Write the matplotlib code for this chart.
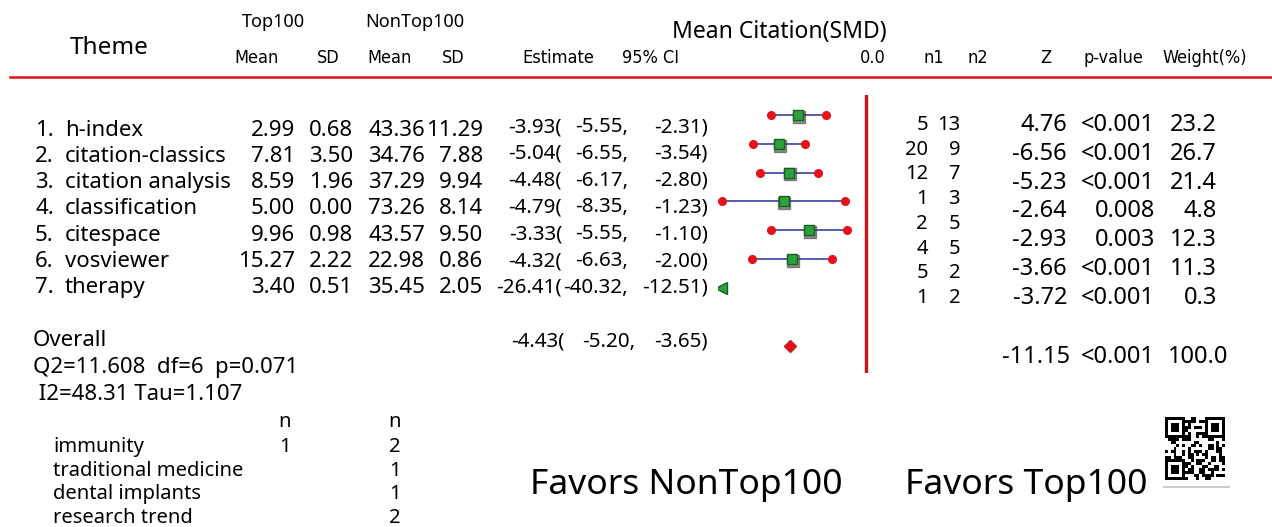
import numpy as np
import matplotlib
matplotlib.use("Agg")
import matplotlib.pyplot as plt
from matplotlib import font_manager

# data
themes = ["h-index", "citation-classics", "citation analysis", "classification",
          "citespace", "vosviewer", "therapy"]
top_mean = [2.99, 7.81, 8.59, 5.00, 9.96, 15.27, 3.40]
top_sd = [0.68, 3.50, 1.96, 0.00, 0.98, 2.22, 0.51]
non_mean = [43.36, 34.76, 37.29, 73.26, 43.57, 22.98, 35.45]
non_sd = [11.29, 7.88, 9.94, 8.14, 9.50, 0.86, 2.05]
est = [-3.93, -5.04, -4.48, -4.79, -3.33, -4.32, -26.41]
ci_lo = [-5.55, -6.55, -6.17, -8.35, -5.55, -6.63, -40.32]
ci_hi = [-2.31, -3.54, -2.80, -1.23, -1.10, -2.00, -12.51]
n1 = [5, 20, 12, 1, 2, 4, 5, 1]
n2 = [13, 9, 7, 3, 5, 5, 2, 2]
z_vals = [4.76, -6.56, -5.23, -2.64, -2.93, -3.66, -3.72]
p_vals = ["<0.001", "<0.001", "<0.001", "0.008", "0.003", "<0.001", "<0.001"]
weights = [23.2, 26.7, 21.4, 4.8, 12.3, 11.3, 0.3]

overall_est, overall_lo, overall_hi = -4.43, -5.20, -3.65
overall_z, overall_p, overall_w = -11.15, "<0.001", 100.0
hetero1 = "Q2=11.608  df=6  p=0.071"
hetero2 = " I2=48.31 Tau=1.107"

others = ["immunity", "traditional medicine", "dental implants", "research trend"]
others_top = ["1", "", "", ""]
others_non = ["2", "1", "1", "2"]

W, H = 1272, 527
fig = plt.figure(figsize=(W / 100, H / 100), dpi=100)
fig.patch.set_facecolor("white")

BODY = "Noto Sans"
# header row uses a condensed face if one is around
cond = [f for f in font_manager.fontManager.ttflist
        if f.name == "DejaVu Sans" and str(f.stretch) in ("condensed", "semi-condensed")
        and f.weight in (400, "normal")]
if cond:
    NARROW, NARROW_KW, NARROW_SIZE = "DejaVu Sans", {"fontstretch": "condensed"}, 13
else:
    NARROW, NARROW_KW, NARROW_SIZE = BODY, {}, 12.5


def txt(x, y, s, size=14, ha="left", family=BODY, **kw):
    # place text by pixel position (from top-left)
    fig.text(x / W, 1 - y / H, s, fontsize=size, ha=ha, va="center",
             family=family, color="#000000", **kw)


# header
txt(109, 48, "Theme", 17.5, "center")
txt(273, 22, "Top100", 13, "center")
txt(415, 22, "NonTop100", 13, "center")
txt(779, 32, "Mean Citation(SMD)", 16.5, "center")
hdr = [(257, "Mean"), (328, "SD"), (390, "Mean"), (453, "SD"), (558, "Estimate"),
       (651, "95% CI"), (873, "0.0"), (934, "n1"), (978, "n2"), (1046, "Z"),
       (1113, "p-value"), (1205, "Weight(%)")]
for x, s in hdr:
    txt(x, 58, s, NARROW_SIZE, "center", family=NARROW, **NARROW_KW)
fig.add_artist(plt.Line2D([10 / W, 1], [1 - 77 / H, 1 - 77 / H], color="#e0101a", lw=1.8))

# study rows
for i, name in enumerate(themes):
    y = 130 + 26.3 * i
    txt(35, y, f"{i + 1}.", 16)
    txt(65, y, name, 16)
    txt(295, y, f"{top_mean[i]:.2f}", 16, "right")
    txt(353, y, f"{top_sd[i]:.2f}", 16, "right")
    txt(425, y, f"{non_mean[i]:.2f}", 16, "right")
    txt(483, y, f"{non_sd[i]:.2f}", 16, "right")
    ye = 127 + 26.8 * i
    txt(562, ye, f"{est[i]:.2f}(", 14.8, "right")
    txt(628, ye, f"{ci_lo[i]:.2f},", 14.8, "right")
    txt(708, ye, f"{ci_hi[i]:.2f})", 14.8, "right")
    yz = 125 + 28.8 * i
    txt(1067, yz, f"{z_vals[i]:.2f}", 17, "right")
    txt(1155, yz, p_vals[i], 17, "right")
    txt(1217, yz, f"{weights[i]:.1f}", 17, "right")

for i in range(len(n1)):
    y = 125 + 24.7 * i
    txt(928, y, str(n1[i]), 14.5, "right")
    txt(960, y, str(n2[i]), 14.5, "right")

# overall
txt(33, 340, "Overall", 16)
txt(33, 368, hetero1, 16)
txt(33, 395, hetero2, 16)
txt(565, 342, f"{overall_est:.2f}(", 14.8, "right")
txt(635, 342, f"{overall_lo:.2f},", 14.8, "right")
txt(708, 342, f"{overall_hi:.2f})", 14.8, "right")
txt(1070, 357, f"{overall_z:.2f}", 17, "right")
txt(1155, 357, overall_p, 17, "right")
txt(1228, 357, f"{overall_w:.1f}", 17, "right")

# themes with too few papers
txt(285, 422, "n", 14.5, "center")
txt(395, 422, "n", 14.5, "center")
for i, name in enumerate(others):
    y = 447 + 23.7 * i
    txt(53, y, name, 14.5)
    txt(285, y, others_top[i], 14.5, "center")
    txt(395, y, others_non[i], 14.5, "center")

txt(530, 485, "Favors NonTop100", 25.5)
txt(905, 485, "Favors Top100", 25.5)

# forest panel: zero at the red line (px 866), ~17.2 px per SMD unit
ax_l, ax_r, ax_t, ax_b = 718, 900, 95, 373
ax = fig.add_axes([ax_l / W, 1 - ax_b / H, (ax_r - ax_l) / W, (ax_b - ax_t) / H])
scale = 17.2
x0 = -(866 - ax_l) / scale
x1 = (ax_r - 866) / scale
ax.set_xlim(x0, x1)
row_step = 28.8
ax.set_ylim((ax_b - 115) / row_step, (ax_t - 115) / row_step)
ax.axis("off")
ax.axvline(0, color="#d0121b", lw=2.4)

rows = np.arange(len(est))
e = np.array(est)
lo = np.clip(ci_lo, x0 + 0.2, None)
hi = np.clip(ci_hi, x0 + 0.2, None)
off = e < x0
ax.hlines(rows, lo, hi, color="#3a3fa0", lw=1.2)
ax.plot(lo[hi > lo], rows[hi > lo], "o", color="#e8101a", ms=5.5)
ax.plot(hi[hi > lo], rows[hi > lo], "o", color="#e8101a", ms=5.5)
e_show = np.clip(e, x0 + 0.2, None)
ax.plot(e_show[~off] + 0.05, rows[~off] + 0.06, "s", color="#444444", ms=8, alpha=0.6)
ax.plot(e_show[~off], rows[~off], "s", color="#2aa33c", mec="#1b5e20", mew=1, ms=7.5)
ax.plot(e_show[off], rows[off], "<", color="#2aa33c", mec="#1b5e20", mew=1, ms=8)
ax.plot([overall_est], [(346 - 115) / row_step], "D", color="#d8151d", ms=6)

# small QR-like badge in the corner
bits = np.unpackbits(np.frombuffer(b"Favors Top100 NonTop100 SMD meta-analysis!!", dtype=np.uint8))
qr = np.resize(bits, 21 * 21).reshape(21, 21).astype(float)
for r, c in [(0, 0), (0, 14), (14, 0)]:
    qr[r:r + 7, c:c + 7] = 1
    qr[r + 1:r + 6, c + 1:c + 6] = 0
    qr[r + 2:r + 5, c + 2:c + 5] = 1
qax = fig.add_axes([1165 / W, 1 - 480 / H, 60 / W, 63 / H])
qax.imshow(qr, cmap="Greys", interpolation="nearest", aspect="auto")
qax.axis("off")
fig.add_artist(plt.Line2D([1164 / W, 1229 / W], [1 - 487 / H, 1 - 487 / H], color="#cccccc", lw=1.5))

fig.savefig("out.png", dpi=100, facecolor="white")
